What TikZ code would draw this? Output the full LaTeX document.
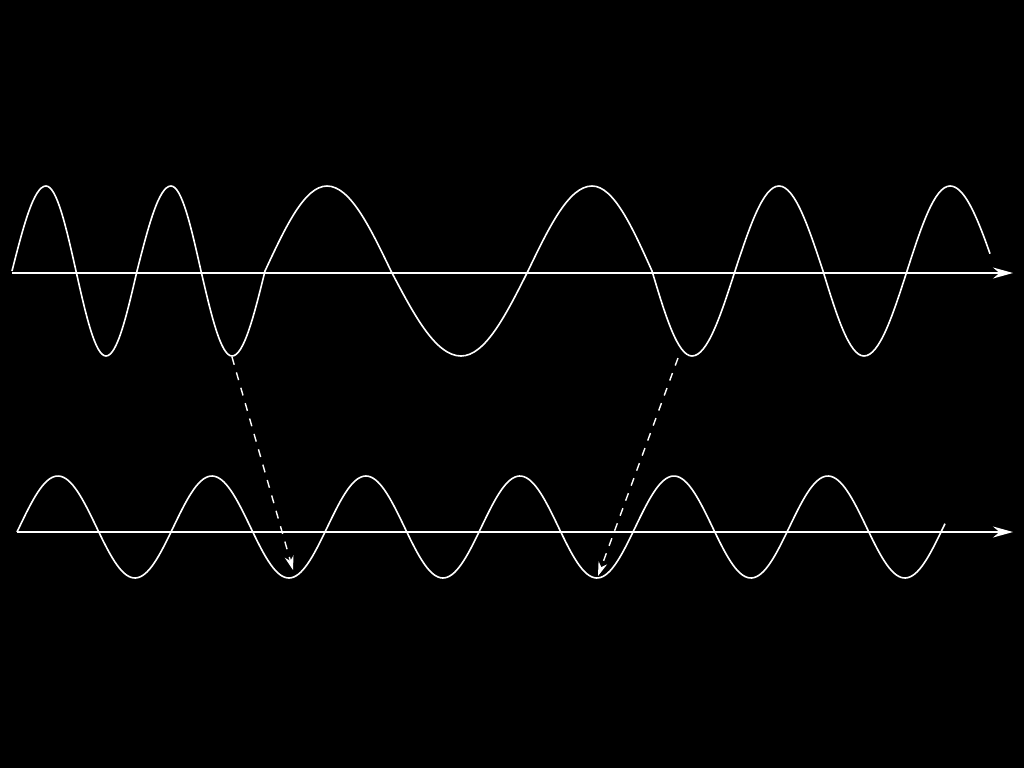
\documentclass[tikz,border=0pt]{standalone}
\usetikzlibrary{arrows.meta}
\begin{document}
\begin{tikzpicture}[x=1pt,y=-1pt,
  axisline/.style={draw=white,line width=1.6pt,-{Stealth[length=20pt,width=11pt]}},
  wave/.style={draw=white,line width=1.6pt,line join=round},
  maparrow/.style={draw=white,line width=1.4pt,dash pattern=on 8pt off 8pt,-{Stealth[length=14pt,width=9pt]}}]
\fill[black] (0,0) rectangle (1024,768);
\useasboundingbox (0,0) rectangle (1024,768);
% axes
\coordinate (ta0) at (12,273);
\coordinate (ta1) at (1013,273);
\coordinate (ba0) at (17,532);
\coordinate (ba1) at (1013,532);
\draw[axisline] (ta0) -- (ta1);
\draw[axisline] (ba0) -- (ba1);
% top wave (varying frequency)
\draw[wave] (12,271) sin (46,186) cos (76,271) sin (106,356) cos (137,271)
  sin (171,186) cos (201,271) sin (232,356) cos (265,271)
  sin (327,186) cos (391,271) sin (461,356) cos (528,271)
  sin (592,186) cos (652,271) sin (692,356) cos (735,271)
  sin (779,186) cos (823,271) sin (864,356) cos (907,271)
  sin (950,186) -- plot[domain=950:990,samples=25] (\x,{271-85*cos(1.9565*(\x-950))});
% bottom wave (constant frequency)
\draw[wave] plot[domain=17:945,samples=400] (\x,{527-51*sin(2.33766*(\x-19.4))});
% mapping arrows
\coordinate (s1) at (232,357);
\coordinate (e1) at (293,570);
\coordinate (s2) at (678,358);
\coordinate (e2) at (598,576);
\draw[maparrow] (s1) -- (e1);
\draw[maparrow] (s2) -- (e2);
\end{tikzpicture}
\end{document}
